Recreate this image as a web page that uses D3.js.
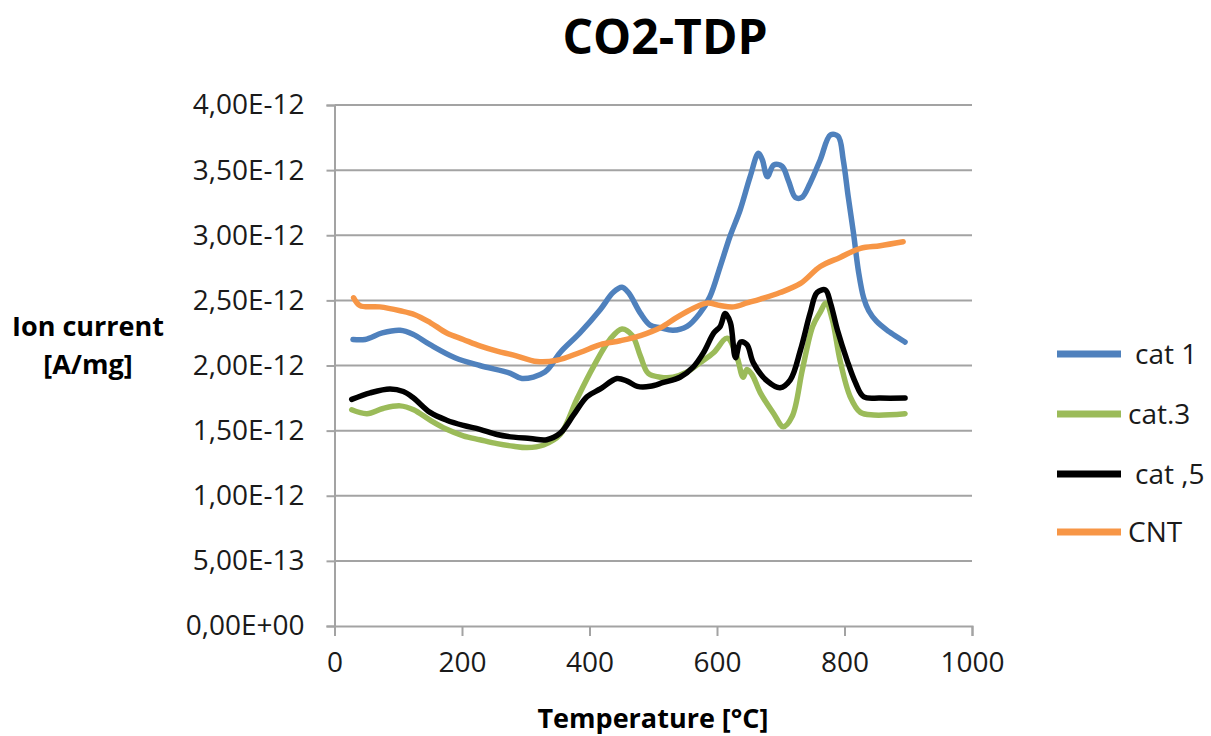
<!DOCTYPE html>
<html>
<head>
<meta charset="utf-8">
<script src="https://cdn.jsdelivr.net/npm/d3@7"></script>
<style>
  html, body { margin: 0; padding: 0; background: #fff; overflow: hidden; }
  svg { display: block; font-family: "Open Sans", "Noto Sans", sans-serif; }
</style>
</head>
<body>
<svg id="chart" width="1211" height="736"></svg>
<script>
// Temperature axis (°C) and ion current readings (in units of 1e-12 A/mg)
const UNIT = 1e-12;

const cat1T = [29, 48, 75, 103, 123, 150, 189, 228, 276, 294, 330, 354, 385, 417, 437, 451, 461, 480, 495, 511, 531, 553, 573, 589, 605, 621, 636, 652, 665, 671, 679, 689, 702, 712, 723, 733, 746, 762, 778, 790, 798, 806, 814, 822, 830, 838, 850, 867, 895];
const cat1V = [2.20, 2.20, 2.25, 2.27, 2.24, 2.16, 2.06, 2.00, 1.94, 1.90, 1.95, 2.10, 2.25, 2.43, 2.56, 2.60, 2.56, 2.40, 2.31, 2.29, 2.27, 2.30, 2.40, 2.53, 2.76, 3.00, 3.19, 3.45, 3.63, 3.58, 3.45, 3.54, 3.53, 3.42, 3.29, 3.29, 3.40, 3.58, 3.77, 3.76, 3.58, 3.29, 3.02, 2.72, 2.52, 2.42, 2.34, 2.27, 2.18];

const cat3T = [27, 51, 76, 103, 124, 150, 176, 202, 228, 255, 281, 302, 328, 354, 380, 406, 432, 451, 467, 480, 492, 511, 531, 553, 573, 595, 616, 631, 641, 647, 655, 668, 689, 704, 718, 734, 750, 762, 771, 781, 793, 809, 825, 846, 895];
const cat3V = [1.66, 1.63, 1.67, 1.69, 1.66, 1.58, 1.51, 1.46, 1.43, 1.40, 1.38, 1.37, 1.39, 1.47, 1.74, 1.99, 2.20, 2.28, 2.23, 2.07, 1.94, 1.91, 1.91, 1.95, 2.02, 2.10, 2.21, 2.07, 1.91, 1.97, 1.93, 1.79, 1.63, 1.53, 1.61, 1.97, 2.30, 2.41, 2.48, 2.35, 2.04, 1.76, 1.64, 1.62, 1.63];

const cat5T = [27, 56, 87, 108, 124, 150, 176, 202, 228, 255, 281, 307, 333, 354, 375, 396, 417, 443, 459, 475, 495, 516, 542, 563, 579, 595, 605, 613, 621, 629, 637, 647, 657, 679, 699, 715, 731, 746, 757, 770, 778, 789, 804, 817, 830, 856, 895];
const cat5V = [1.74, 1.79, 1.82, 1.80, 1.75, 1.64, 1.58, 1.54, 1.51, 1.47, 1.45, 1.44, 1.43, 1.48, 1.62, 1.76, 1.82, 1.90, 1.88, 1.84, 1.84, 1.87, 1.91, 1.99, 2.10, 2.25, 2.30, 2.40, 2.33, 2.06, 2.18, 2.16, 2.02, 1.88, 1.83, 1.89, 2.12, 2.40, 2.56, 2.58, 2.48, 2.27, 2.04, 1.87, 1.76, 1.75, 1.75];

const cntT = [30, 40, 71, 103, 126, 150, 176, 202, 228, 255, 281, 318, 349, 385, 417, 448, 480, 511, 537, 563, 585, 605, 626, 647, 668, 699, 731, 762, 793, 825, 856, 892];
const cntV = [2.52, 2.46, 2.45, 2.42, 2.39, 2.33, 2.25, 2.20, 2.15, 2.11, 2.08, 2.03, 2.04, 2.10, 2.16, 2.19, 2.23, 2.29, 2.37, 2.44, 2.48, 2.46, 2.45, 2.48, 2.51, 2.56, 2.63, 2.76, 2.83, 2.90, 2.92, 2.95];

const seriesNames = ["cat 1", "cat.3", "cat ,5", "CNT"];
const seriesColors = ["#4f81bd", "#9bbb59", "#000000", "#f79646"];

const xTicks = [0, 200, 400, 600, 800, 1000];
const yTicks = [0, 0.5, 1.0, 1.5, 2.0, 2.5, 3.0, 3.5, 4.0];
const yTickLabels = ["0,00E+00", "5,00E-13", "1,00E-12", "1,50E-12", "2,00E-12", "2,50E-12", "3,00E-12", "3,50E-12", "4,00E-12"];

const chartTitle = "CO2-TDP";
const xTitle = "Temperature [°C]";
const yTitleLines = ["Ion current", "[A/mg]"];

// ---- layout ----
const plot = { left: 334.5, right: 972, top: 105, bottom: 626 };
const svg = d3.select("#chart");

const x = d3.scaleLinear().domain([0, 1000]).range([plot.left, plot.right]);
const y = d3.scaleLinear().domain([0, 4.0 * UNIT]).range([plot.bottom, plot.top]);

const gridColor = "#a3a3a3";
const textColor = "#1a1a1a";

// horizontal gridlines
svg.append("g")
  .selectAll("line")
  .data(yTicks.filter(d => d > 0))
  .join("line")
  .attr("x1", plot.left).attr("x2", plot.right)
  .attr("y1", d => y(d * UNIT)).attr("y2", d => y(d * UNIT))
  .attr("stroke", gridColor).attr("stroke-width", 2);

// y axis
const yAxis = d3.axisLeft(y)
  .tickValues(yTicks.map(d => d * UNIT))
  .tickSize(8)
  .tickPadding(22)
  .tickFormat((d, i) => yTickLabels[i]);
const gy = svg.append("g").attr("transform", `translate(${plot.left},0)`).call(yAxis);
gy.select(".domain").attr("stroke", gridColor).attr("stroke-width", 2);
gy.selectAll(".tick line").attr("stroke", gridColor).attr("stroke-width", 2);
gy.selectAll(".tick text")
  .attr("fill", textColor)
  .style("font-family", "'Open Sans', sans-serif")
  .style("font-size", "28px");

// x axis
const xAxis = d3.axisBottom(x)
  .tickValues(xTicks)
  .tickSize(10)
  .tickPadding(16)
  .tickFormat(d3.format("d"));
const gx = svg.append("g").attr("transform", `translate(0,${plot.bottom})`).call(xAxis);
gx.select(".domain").attr("stroke", gridColor).attr("stroke-width", 2);
gx.selectAll(".tick line").attr("stroke", gridColor).attr("stroke-width", 2);
gx.selectAll(".tick text")
  .attr("fill", textColor)
  .style("font-family", "'Open Sans', sans-serif")
  .style("font-size", "28px");

// series lines
const series = [
  { T: cat1T, V: cat1V },
  { T: cat3T, V: cat3V },
  { T: cat5T, V: cat5V },
  { T: cntT, V: cntV }
];
const line = d3.line()
  .x(d => x(d[0]))
  .y(d => y(d[1] * UNIT))
  .curve(d3.curveCatmullRom.alpha(0.5));

svg.append("g")
  .selectAll("path")
  .data(series)
  .join("path")
  .attr("d", s => line(s.T.map((t, i) => [t, s.V[i]])))
  .attr("fill", "none")
  .attr("stroke", (s, i) => seriesColors[i])
  .attr("stroke-width", 5.5)
  .attr("stroke-linejoin", "round")
  .attr("stroke-linecap", "round");

// title
svg.append("text")
  .attr("x", 665).attr("y", 54)
  .attr("text-anchor", "middle")
  .attr("fill", "#000")
  .style("font-size", "48px").style("font-weight", "700")
  .text(chartTitle);

// x axis title
svg.append("text")
  .attr("x", 653).attr("y", 728)
  .attr("text-anchor", "middle")
  .attr("fill", "#000")
  .style("font-size", "27px").style("font-weight", "700")
  .text(xTitle);

// y axis title
svg.append("g")
  .selectAll("text")
  .data(yTitleLines)
  .join("text")
  .attr("x", 88).attr("y", (d, i) => 336 + i * 38)
  .attr("text-anchor", "middle")
  .attr("fill", "#000")
  .style("font-size", "27px").style("font-weight", "700")
  .text(d => d);

// legend
const legendY = [354, 414, 474, 532];
const legendTextX = [1135, 1128, 1135, 1128];
const legend = svg.append("g");
legend.selectAll("line")
  .data(seriesNames)
  .join("line")
  .attr("x1", 1057).attr("x2", 1121)
  .attr("y1", (d, i) => legendY[i]).attr("y2", (d, i) => legendY[i])
  .attr("stroke", (d, i) => seriesColors[i])
  .attr("stroke-width", 7);
legend.selectAll("text")
  .data(seriesNames)
  .join("text")
  .attr("x", (d, i) => legendTextX[i])
  .attr("y", (d, i) => legendY[i] + 10)
  .attr("fill", textColor)
  .style("font-size", "28px")
  .text(d => d);
</script>
</body>
</html>
